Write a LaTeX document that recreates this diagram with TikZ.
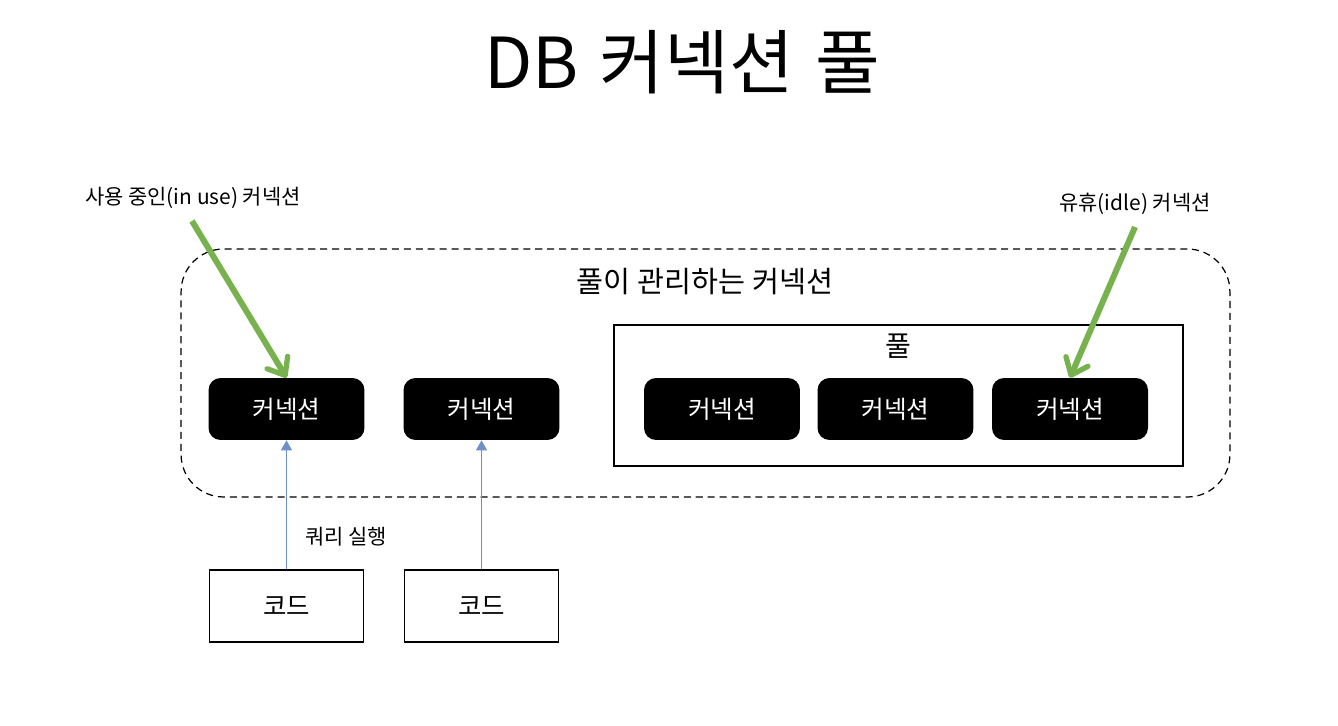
\documentclass[tikz,border=0pt]{standalone}
\usepackage{fontspec}
\setmainfont{Noto Sans CJK KR}
\usepackage{xcolor}
\usetikzlibrary{arrows.meta}
\definecolor{usegreen}{HTML}{78B24E}
\definecolor{runblue}{HTML}{6F8FC8}
\tikzset{
  connbox/.style={fill=black,text=white,rounded corners=0.24cm,minimum width=3.12cm,minimum height=1.24cm,inner sep=0pt,font=\fontsize{14}{17}\selectfont},
  codebox/.style={draw,line width=0.7pt,minimum width=3.08cm,minimum height=1.44cm,inner sep=0pt,font=\fontsize{14.5}{17}\selectfont},
  handtext/.style={inner sep=0pt,font=\fontsize{11.9}{14}\selectfont},
  greenarrow/.style={usegreen,line width=3.4pt,-{Straight Barb[round,length=3mm,width=4.8mm,line width=3pt]}},
  bluearrow/.style={runblue,line width=0.6pt,-{Triangle[length=2mm,width=2.2mm]}},
}

\begin{document}
\begin{tikzpicture}[x=0.02cm,y=-0.02cm]
\useasboundingbox (0,0) rectangle (1338,726);

\node[inner sep=0pt,font=\fontsize{40}{48}\selectfont] (title) at (682,62) {DB\hspace{0.08em} 커넥션\hspace{0.08em} 풀};

% pool areas
\node[draw,dash pattern=on 4pt off 2.8pt,line width=0.7pt,rounded corners=0.85cm,minimum width=20.98cm,minimum height=4.96cm,inner sep=0pt] (managed) at (705.5,373) {};
\node[draw,line width=0.8pt,minimum width=11.38cm,minimum height=2.82cm,inner sep=0pt] (pool) at (898.5,395.5) {};
\node[inner sep=0pt,font=\fontsize{16.7}{20}\selectfont] (managedlabel) at (705,282) {풀이 관리하는 커넥션};
\node[inner sep=0pt,font=\fontsize{16}{19}\selectfont] (poollabel) at (898,346) {풀};

% connections
\node[connbox] (conn1) at (286.5,409) {커넥션};
\node[connbox] (conn2) at (481.5,409) {커넥션};
\node[connbox] (conn3) at (722,409) {커넥션};
\node[connbox] (conn4) at (895.5,409) {커넥션};
\node[connbox] (conn5) at (1070,409) {커넥션};

% code
\node[codebox] (code1) at (286.5,606) {코드};
\node[codebox] (code2) at (481.5,606) {코드};

\draw[bluearrow] (code1) -- (conn1);
\draw[bluearrow] (code2) -- (conn2);

% hand notes
\node[handtext] (inuselabel) at (193,198) {사용 중인(in use) 커넥션};
\node[handtext] (idlelabel) at (1135,204) {유휴(idle) 커넥션};
\node[handtext] (querylabel) at (346,537) {쿼리 실행};

\coordinate (inusestart) at (192,221);
\coordinate (idlestart) at (1135,227);
\draw[greenarrow] (inusestart) -- (conn1.north);
\draw[greenarrow] (idlestart) -- (conn5.north);
\end{tikzpicture}
\end{document}
